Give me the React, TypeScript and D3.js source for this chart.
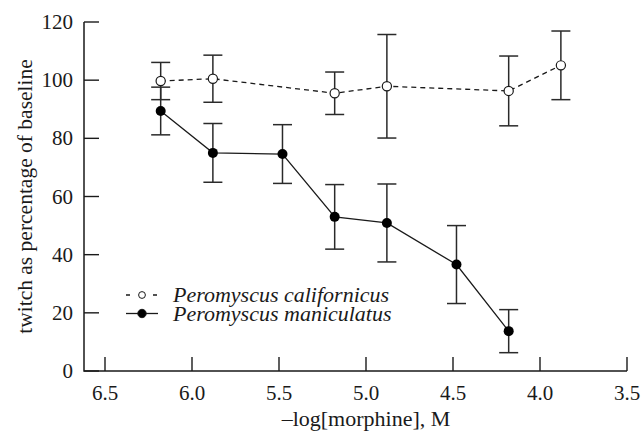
import * as d3 from "d3";

// -log[morphine], M
const doses = [6.18, 5.88, 5.48, 5.18, 4.88, 4.48, 4.18, 3.88];

// Peromyscus californicus (open circles, dashed)
const calDoses = [6.18, 5.88, 5.18, 4.88, 4.18, 3.88];
const calMean = [99.7, 100.5, 95.5, 97.9, 96.3, 105.1];
const calErr = [6.4, 8.1, 7.3, 17.8, 12.0, 11.8];

// Peromyscus maniculatus (filled circles, solid)
const manDoses = doses.slice(0, 7);
const manMean = [89.4, 75.0, 74.6, 53.0, 50.9, 36.6, 13.7];
const manErr = [8.2, 10.1, 10.1, 11.1, 13.4, 13.4, 7.4];

const xTicks = [6.5, 6.0, 5.5, 5.0, 4.5, 4.0, 3.5];
const yTicks = [0, 20, 40, 60, 80, 100, 120];

const seriesNames = ["Peromyscus californicus", "Peromyscus maniculatus"];

const W = 644;
const H = 436;
const ink = "#1a1a1a";
const FONT = "Liberation Serif";
const txt = { fontFamily: FONT, fontSize: 21, fill: ink };

const x = d3.scaleLinear().domain([6.5, 3.5]).range([105, 627]);
const y = d3.scaleLinear().domain([0, 120]).range([371, 22]);
const axisLeftX = 84;
const capHalf = 9.5;

const line = d3
  .line<[number, number]>()
  .x((d) => x(d[0]))
  .y((d) => y(d[1]));

const ErrorBars = ({ xs, m, e }: { xs: number[]; m: number[]; e: number[] }) => (
  <g stroke="#2a2a2a" strokeWidth={1.5}>
    {xs.map((d, i) => {
      const cx = x(d);
      const y1 = y(m[i] + e[i]);
      const y2 = y(m[i] - e[i]);
      return (
        <g key={i}>
          <line x1={cx} x2={cx} y1={y1} y2={y2} />
          <line x1={cx - capHalf} x2={cx + capHalf} y1={y1} y2={y1} />
          <line x1={cx - capHalf} x2={cx + capHalf} y1={y2} y2={y2} />
        </g>
      );
    })}
  </g>
);

const App = () => {
  const fmt = d3.format(".1f");
  return (
    <svg
      width={W}
      height={H}
      fontFamily={FONT}
      style={{ position: "absolute", left: 0, top: 0, background: "white", fontFamily: FONT }}
    >
      {/* y ticks */}
      {yTicks.map((t) => (
        <g key={t} transform={`translate(${axisLeftX},${y(t)})`}>
          <line x2={15} stroke={ink} strokeWidth={1.4} />
          <text x={-11} dy="0.34em" textAnchor="end" style={txt}>
            {t}
          </text>
        </g>
      ))}
      {/* x ticks */}
      {xTicks.map((t) => (
        <g key={t} transform={`translate(${x(t)},${y(0)})`}>
          <line y2={-14} stroke={ink} strokeWidth={1.4} />
          <text y={29} textAnchor="middle" style={txt}>
            {fmt(t)}
          </text>
        </g>
      ))}
      {/* L frame */}
      <path
        d={`M${axisLeftX},${y(120)}V${y(0)}H${x(3.5)}`}
        fill="none"
        stroke={ink}
        strokeWidth={1.5}
      />
      <text x={x(5.0)} y={426} textAnchor="middle" style={{ ...txt, fontSize: 22 }}>
        {"\u2013log[morphine], M"}
      </text>
      <text
        transform={`translate(32,${(y(0) + y(120)) / 2}) rotate(-90)`}
        textAnchor="middle"
        style={{ ...txt, fontSize: 21.5 }}
      >
        twitch as percentage of baseline
      </text>

      <ErrorBars xs={calDoses} m={calMean} e={calErr} />
      <ErrorBars xs={manDoses} m={manMean} e={manErr} />

      <path
        d={line(calDoses.map((d, i) => [d, calMean[i]] as [number, number])) || ""}
        fill="none"
        stroke={ink}
        strokeWidth={1.3}
        strokeDasharray="5,4"
      />
      <path
        d={line(manDoses.map((d, i) => [d, manMean[i]] as [number, number])) || ""}
        fill="none"
        stroke={ink}
        strokeWidth={1.3}
      />
      {calDoses.map((d, i) => (
        <circle
          key={"c" + i}
          cx={x(d)}
          cy={y(calMean[i])}
          r={4.6}
          fill="white"
          stroke={ink}
          strokeWidth={1.2}
        />
      ))}
      {manDoses.map((d, i) => (
        <circle key={"m" + i} cx={x(d)} cy={y(manMean[i])} r={5} fill="black" />
      ))}

      {/* legend */}
      <g transform="translate(126,295)">
        {seriesNames.map((name, i) => (
          <g key={name} transform={`translate(0,${i * 18.5})`}>
            <line
              x1={0}
              x2={32}
              stroke={ink}
              strokeWidth={1.3}
              strokeDasharray={i === 0 ? "4,9.5" : undefined}
            />
            <circle
              cx={16}
              r={i === 0 ? 3.4 : 4.2}
              fill={i === 0 ? "white" : "black"}
              stroke={ink}
              strokeWidth={1}
            />
            <text x={47} y={7} style={{ ...txt, fontSize: 22, fontStyle: "italic" }}>
              {name}
            </text>
          </g>
        ))}
      </g>
    </svg>
  );
};

export default App;
